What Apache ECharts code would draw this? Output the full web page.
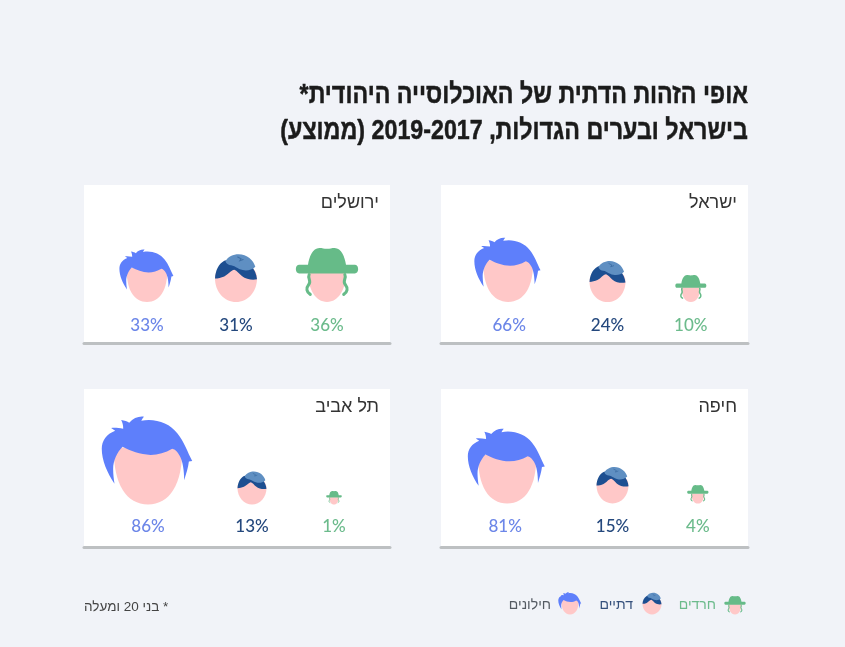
<!DOCTYPE html>
<html dir="rtl">
<head>
<meta charset="utf-8">
<title>chart</title>
<script src="https://cdn.jsdelivr.net/npm/echarts@6/dist/echarts.min.js"></script>
<style>
html,body{margin:0;padding:0;background:#f1f3f8}
#main{width:845px;height:647px}
</style>
</head>
<body>
<div id="main"></div>
<script>
// data
const groups = ['חילונים', 'דתיים', 'חרדים'];
const israel = [66, 24, 10];
const jerusalem = [33, 31, 36];
const haifa = [81, 15, 4];
const telAviv = [86, 13, 1];
const cities = ['ישראל', 'ירושלים', 'חיפה', 'תל אביב'];
const footnote = '* בני 20 ומעלה';
const heading = 'אופי הזהות הדתית של האוכלוסייה היהודית*\nבישראל ובערים הגדולות, 2019-2017 (ממוצע)';

// layout
const panelValues = [israel, jerusalem, haifa, telAviv];
const panelBox = [
  {left: 441, top: 185, width: 307, height: 158.5, chin: 41.5, label: 18, titleY: 194},
  {left: 84, top: 185, width: 306, height: 158.5, chin: 41.5, label: 18, titleY: 194},
  {left: 441, top: 389, width: 307, height: 158.5, chin: 44, label: 21, titleY: 398},
  {left: 84, top: 389, width: 306, height: 158.5, chin: 43, label: 21, titleY: 398}
];
const nudgeX = [[16, 13, -6], [12, -1, -12], [15, 18, 1], [13, 15, -5]];
const labelNudge = [[1, 0, 0], [0, 0, 0], [-2, 0, 0], [0, 0, 0]];
const sizeK = [6.6, 7.8, 6.3];
const sizeTrim = [[0.914, 0.94, 0.95], [1.055, 0.967, 1.005], [0.96, 1.06, 1.03], [1.095, 1.03, 1.5]];

const labelColor = ['#6c86e8', '#24487d', '#6cbb8c'];
const legendText = ['#555b63', '#35507c', '#6cbb8c'];
const legendFace = [17, 19, 13];
const legendNudge = [1, 5, 10];

const FACE = '#ffc8c8', HAIR = '#5e7ffb', DARK = '#1d4f91', KIPPAH = '#5f8fc2', HAT = '#66bb88';

// head drawings, face width 100, chin at 0,0
const heads = [
  [
    {d: 'M-51,-85C-52,-30 -32,0 0,0C32,0 52,-30 51,-85Z', fill: FACE},
    {d: 'M-50,-31C-61,-47 -69,-66 -69,-83C-69,-95 -62,-105 -49,-110L-55,-114C-50,-115 -44,-114 -37,-113C-37,-118 -38,-122 -40,-126C-35,-125 -31,-124 -28,-122C-22,-129 -14,-132 -6,-131C-8,-129 -9,-127 -10,-125C10,-129 32,-122 44,-106C54,-94 59,-78 66,-65L61,-64C60,-55 57,-46 54,-36C54,-50 52,-65 47,-73C44,-78 41,-82 36,-83C26,-77 15,-74 4,-74C-12,-74 -26,-80 -38,-86C-46,-78 -52,-65 -52,-53C-52,-45 -51,-38 -50,-31Z', fill: HAIR}
  ],
  [
    {d: 'M-50,-56C-50,-25 -28,0 0,0C28,0 50,-25 50,-56C50,-75 40,-90 0,-90C-40,-90 -50,-75 -50,-56Z', fill: FACE},
    {d: 'M-50,-56C-49,-74 -42,-90 -28,-98C-10,-106 22,-102 34,-88C44,-78 49,-66 50,-54C38,-52 24,-54 14,-62C8,-67 2,-75 -4,-77C-12,-76 -18,-66 -28,-61C-35,-58 -43,-56 -50,-56Z', fill: DARK},
    {d: 'M-25,-97C-20,-108 -6,-114 6,-114C26,-114 42,-100 46,-84C38,-76 26,-74 16,-76C4,-78 -4,-88 -16,-88C-20,-90 -24,-93 -25,-97Z', fill: KIPPAH},
    {d: 'M4,-107L12,-103L9,-98L17,-101', stroke: '#3f6fa5', width: 2.5}
  ],
  [
    {d: 'M-50,-78C-50,-32 -30,0 0,0C30,0 50,-32 50,-78Z', fill: FACE},
    {d: 'M-47,-72C-52,-62 -40,-56 -48,-46C-56,-36 -54,-26 -44,-20', stroke: HAT, width: 8},
    {d: 'M47,-72C52,-62 40,-56 48,-46C56,-36 54,-26 44,-20', stroke: HAT, width: 8},
    {d: 'M-50,-98C-47,-118 -38,-142 -20,-142C-12,-142 -8,-140 0,-140C8,-140 12,-142 20,-142C38,-142 47,-118 50,-98L74,-98C80,-98 82,-92 82,-86C82,-80 78,-74 72,-75L-72,-75C-78,-74 -82,-80 -82,-86C-82,-92 -80,-98 -74,-98Z', fill: HAT}
  ]
];

function headGroup(type, cx, chin, faceW) {
  const s = faceW / 100;
  return {
    type: 'group', x: cx, y: chin, scaleX: s, scaleY: s,
    children: heads[type].map(p => ({
      type: 'path',
      shape: {pathData: p.d},
      style: p.fill ? {fill: p.fill} : {fill: 'none', stroke: p.stroke, lineWidth: p.width, lineCap: 'round'}
    }))
  };
}

const grid = [], xAxis = [], yAxis = [], series = [];
const title = [];

panelBox.forEach((box, p) => {
  grid.push({show: true, left: box.left, top: box.top, width: box.width, height: box.height, backgroundColor: '#fff', borderWidth: 0, containLabel: false});
  xAxis.push({type: 'category', gridIndex: p, data: groups, axisTick: {show: false}, axisLabel: {show: false}, splitLine: {show: false},
    axisLine: {show: true, lineStyle: {color: '#bdc0c2', width: 3}}});
  yAxis.push({type: 'value', gridIndex: p, min: 0, max: 100, show: false, splitLine: {show: false}});
  title.push({
    text: cities[p], left: box.left + box.width - 11, top: box.titleY, textAlign: 'right', padding: 0,
    textStyle: {fontFamily: 'Liberation Sans', fontSize: 18, fontWeight: 'normal', color: '#333'}
  });
  series.push({
    type: 'custom', xAxisIndex: p, yAxisIndex: p, coordinateSystem: 'cartesian2d',
    silent: true, z: 5,
    data: panelValues[p].map((v, i) => [i, v]),
    encode: {x: 0, y: 1},
    renderItem(params, api) {
      const i = api.value(0), v = api.value(1);
      const base = api.coord([i, 0]);
      const cx = base[0] + nudgeX[p][i];
      const faceW = sizeK[i] * Math.sqrt(v) * sizeTrim[p][i];
      return {
        type: 'group',
        children: [
          headGroup(i, cx, base[1] - box.chin, faceW),
          {type: 'text', style: {
            text: v + '%', x: cx + labelNudge[p][i], y: base[1] - box.label,
            textAlign: 'center', textVerticalAlign: 'middle',
            fill: labelColor[i], font: '500 17px Lato'
          }}
        ]
      };
    }
  });
});

// legend row
grid.push({left: 530, top: 590, width: 234, height: 35});
xAxis.push({type: 'category', gridIndex: 4, data: groups, show: false});
yAxis.push({type: 'value', gridIndex: 4, min: 0, max: 100, show: false});
series.push({
  type: 'custom', xAxisIndex: 4, yAxisIndex: 4, coordinateSystem: 'cartesian2d', silent: true,
  data: groups.map((g, i) => [i, 100]),
  encode: {x: 0, y: 1},
  renderItem(params, api) {
    const i = api.value(0);
    const base = api.coord([i, 0]);
    const cx = base[0] + legendNudge[i];
    return {
      type: 'group',
      children: [
        headGroup(i, cx, base[1] - 10.5, legendFace[i]),
        {type: 'text', style: {
          text: groups[i], x: cx - 19, y: base[1] - 20,
          textAlign: 'right', textVerticalAlign: 'middle',
          fill: legendText[i], font: '14px "Liberation Sans"'
        }}
      ]
    };
  }
});

title.push({
  text: footnote, left: 84, top: 600, padding: 0,
  textStyle: {fontFamily: 'Liberation Sans', fontSize: 13.5, fontWeight: 'normal', color: '#444'}
});

const chart = echarts.init(document.getElementById('main'), null, {renderer: 'canvas'});
chart.setOption({
  animation: false,
  backgroundColor: '#f1f3f8',
  title, grid, xAxis, yAxis, series,
  // the heading is a condensed face, so squeeze it horizontally
  graphic: [{
    type: 'text', x: 748, y: 77.5, scaleX: 0.83,
    style: {
      text: heading, textAlign: 'right', fill: '#1b1b1b',
      font: 'bold 28px "Liberation Sans"', lineHeight: 36,
      stroke: '#1b1b1b', lineWidth: 0.5
    }
  }]
});
</script>
</body>
</html>
